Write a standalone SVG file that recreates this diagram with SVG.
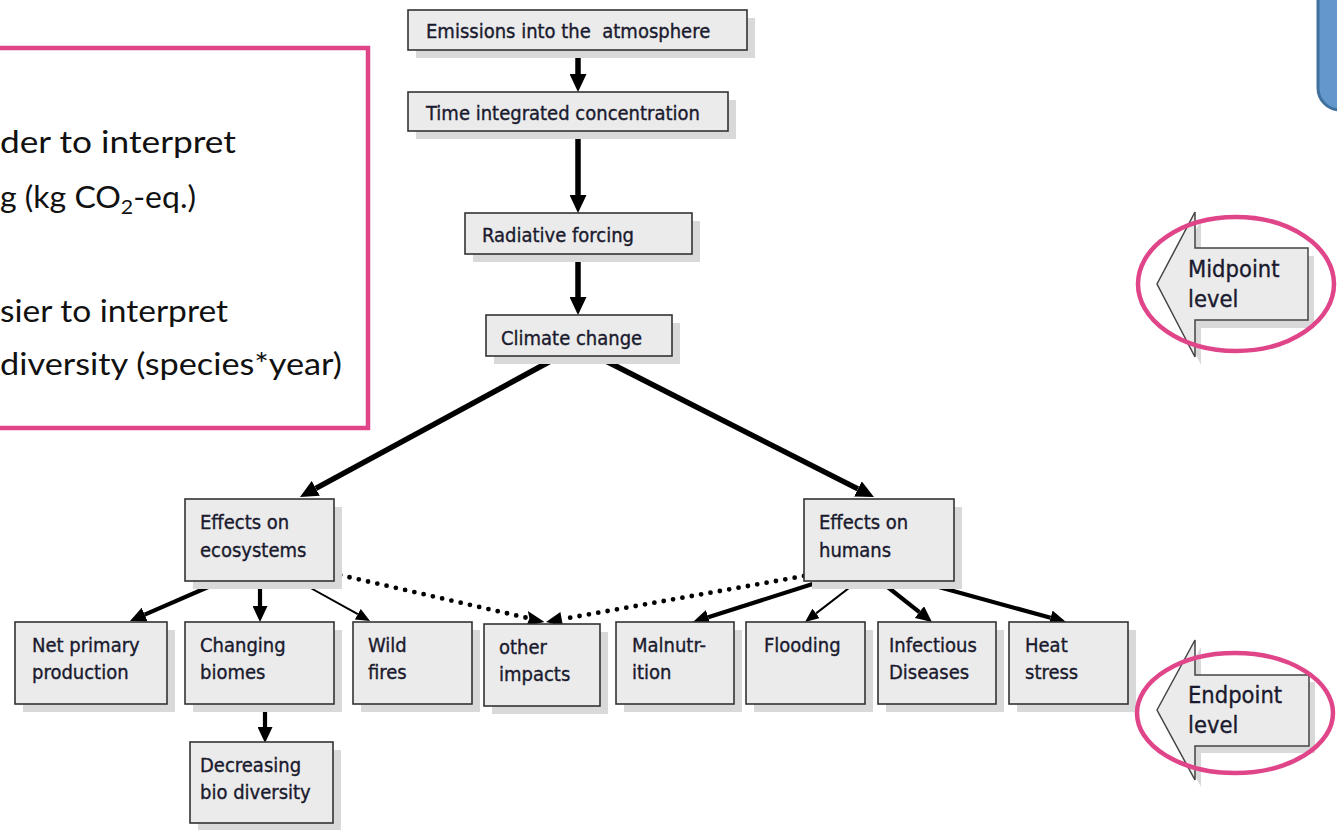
<svg xmlns="http://www.w3.org/2000/svg" width="1337" height="830" viewBox="0 0 1337 830">
<defs>
<style>
.box{fill:#ebebeb;stroke:#333;stroke-width:1.6}
.sh{fill:#d9d9d9}
.t{font-family:"DejaVu Sans Condensed","DejaVu Sans",sans-serif;font-size:20px;fill:#1a1a2e;stroke:#1a1a2e;stroke-width:0.35;white-space:pre}
.lt{font-family:"DejaVu Sans Condensed","DejaVu Sans",sans-serif;font-size:23.5px;fill:#1a1a2e;stroke:#1a1a2e;stroke-width:0.35}
.side{font-family:Lato,"Open Sans",sans-serif;font-size:30px;fill:#111}
.thick{stroke:#000;stroke-width:5.5;fill:none}
.mid{stroke:#000;stroke-width:4.2;fill:none}
.thin{stroke:#000;stroke-width:2;fill:none}
.dot{stroke:#000;stroke-width:4.8;stroke-linecap:round;stroke-dasharray:0 9.5;fill:none}
.pink{fill:none;stroke:#e0458a;stroke-width:4.5}
.lvl{fill:#ebebeb;stroke:#444;stroke-width:1.5}
</style>
<marker id="ah" viewBox="0 0 18 17" refX="0" refY="8.5" markerWidth="18" markerHeight="17" markerUnits="userSpaceOnUse" orient="auto"><path d="M0,0 L18,8.5 L0,17 z" fill="#000"/></marker>
<marker id="am" viewBox="0 0 16 15" refX="0" refY="7.5" markerWidth="16" markerHeight="15" markerUnits="userSpaceOnUse" orient="auto"><path d="M0,0 L16,7.5 L0,15 z" fill="#000"/></marker>
<marker id="as" viewBox="0 0 14 12" refX="0" refY="6" markerWidth="14" markerHeight="12" markerUnits="userSpaceOnUse" orient="auto"><path d="M0,0 L14,6 L0,12 z" fill="#000"/></marker>
</defs>
<rect width="1337" height="830" fill="#fff"/>

<g id="note-box">
<rect x="-10" y="48" width="378" height="380" class="pink"/>
<text class="side" x="0" y="153" textLength="236" lengthAdjust="spacingAndGlyphs">der to interpret</text>
<text class="side" x="0" y="208" textLength="196" lengthAdjust="spacingAndGlyphs">g (kg CO<tspan font-size="20" dy="6">2</tspan><tspan dy="-6">-eq.)</tspan></text>
<text class="side" x="0" y="322" textLength="228" lengthAdjust="spacingAndGlyphs">sier to interpret</text>
<text class="side" x="0" y="375" textLength="342" lengthAdjust="spacingAndGlyphs">diversity (species*year)</text>
</g>

<g id="blue-box">
<rect x="1318" y="-40" width="80" height="150" rx="22" fill="#6497cb" stroke="#41719c" stroke-width="3"/>
</g>

<g id="connectors">
<line class="thick" x1="578" y1="50" x2="578" y2="74" marker-end="url(#ah)"/>
<line class="thick" x1="578" y1="131" x2="578" y2="195" marker-end="url(#ah)"/>
<line class="thick" x1="578" y1="254" x2="578" y2="297" marker-end="url(#ah)"/>
<line class="thick" x1="558" y1="357" x2="315.8" y2="488.4" marker-end="url(#ah)"/>
<line class="thick" x1="598" y1="357" x2="857.9" y2="488.9" marker-end="url(#ah)"/>
<line class="mid" x1="222" y1="581" x2="144.7" y2="614.6" marker-end="url(#am)"/>
<line class="mid" x1="260" y1="581" x2="260" y2="606" marker-end="url(#am)"/>
<line class="thin" x1="298" y1="581" x2="357.8" y2="614.2" marker-end="url(#as)"/>
<line class="mid" x1="265" y1="704" x2="265" y2="727" marker-end="url(#am)"/>
<line class="mid" x1="822" y1="581" x2="708.2" y2="617.2" marker-end="url(#am)"/>
<line class="thin" x1="858" y1="581" x2="816.1" y2="613.4" marker-end="url(#as)"/>
<line class="mid" x1="880" y1="581" x2="919.4" y2="612.1" marker-end="url(#am)"/>
<line class="mid" x1="917" y1="581" x2="1050.6" y2="617.8" marker-end="url(#am)"/>
<line class="dot" x1="331" y1="573" x2="529.4" y2="618.4"/>
<path d="M529.4,618.4 l-1.5,-7.3 l16.6,10.9 l-18.1,3.9 z" fill="#000"/>
<line class="dot" x1="804" y1="576" x2="561.7" y2="619.2"/>
<path d="M561.7,619.2 l-1.3,-7.3 l-14.4,10.1 l17.1,4.5 z" fill="#000"/>
</g>

<g id="n-emissions"><rect class="sh" x="416" y="18" width="339" height="40"/><rect class="box" x="408" y="10" width="339" height="40"/><text class="t" x="426" y="38">Emissions into the  atmosphere</text></g>
<g id="n-time"><rect class="sh" x="416" y="100" width="320" height="39"/><rect class="box" x="408" y="92" width="320" height="39"/><text class="t" x="426" y="120">Time integrated concentration</text></g>
<g id="n-radiative"><rect class="sh" x="473" y="221" width="227" height="41"/><rect class="box" x="465" y="213" width="227" height="41"/><text class="t" x="482" y="242">Radiative forcing</text></g>
<g id="n-climate"><rect class="sh" x="494" y="323" width="186" height="41"/><rect class="box" x="486" y="315" width="186" height="41"/><text class="t" x="501" y="345">Climate change</text></g>

<g id="n-ecosystems"><rect class="sh" x="193" y="507" width="149" height="82"/><rect class="box" x="185" y="499" width="149" height="82"/><text class="t" x="200" y="529">Effects on</text><text class="t" x="200" y="557">ecosystems</text></g>
<g id="n-humans"><rect class="sh" x="812" y="507" width="150" height="82"/><rect class="box" x="804" y="499" width="150" height="82"/><text class="t" x="819" y="529">Effects on</text><text class="t" x="819" y="557">humans</text></g>

<g id="n-npp"><rect class="sh" x="23" y="630" width="152" height="82"/><rect class="box" x="15" y="622" width="152" height="82"/><text class="t" x="32" y="652">Net primary</text><text class="t" x="32" y="679">production</text></g>
<g id="n-biomes"><rect class="sh" x="193" y="630" width="149" height="82"/><rect class="box" x="185" y="622" width="149" height="82"/><text class="t" x="200" y="652">Changing</text><text class="t" x="200" y="679">biomes</text></g>
<g id="n-fires"><rect class="sh" x="361" y="630" width="119" height="82"/><rect class="box" x="353" y="622" width="119" height="82"/><text class="t" x="368" y="652">Wild</text><text class="t" x="368" y="679">fires</text></g>
<g id="n-biodiv"><rect class="sh" x="198" y="750" width="143" height="81"/><rect class="box" x="190" y="742" width="143" height="81"/><text class="t" x="200" y="772">Decreasing</text><text class="t" x="200" y="799">bio diversity</text></g>
<g id="n-other"><rect class="sh" x="492" y="632" width="116" height="82"/><rect class="box" x="484" y="624" width="116" height="82"/><text class="t" x="499" y="654">other</text><text class="t" x="499" y="681">impacts</text></g>
<g id="n-malnutrition"><rect class="sh" x="624" y="630" width="118" height="82"/><rect class="box" x="616" y="622" width="118" height="82"/><text class="t" x="632" y="652">Malnutr-</text><text class="t" x="632" y="679">ition</text></g>
<g id="n-flooding"><rect class="sh" x="754" y="630" width="119" height="82"/><rect class="box" x="746" y="622" width="119" height="82"/><text class="t" x="764" y="652">Flooding</text></g>
<g id="n-infectious"><rect class="sh" x="886" y="630" width="118" height="82"/><rect class="box" x="878" y="622" width="118" height="82"/><text class="t" x="889" y="652">Infectious</text><text class="t" x="889" y="679">Diseases</text></g>
<g id="n-heat"><rect class="sh" x="1017" y="630" width="119" height="82"/><rect class="box" x="1009" y="622" width="119" height="82"/><text class="t" x="1025" y="652">Heat</text><text class="t" x="1025" y="679">stress</text></g>

<g id="midpoint-level">
<polygon class="sh" points="1163,291 1201,220 1201,256 1314,256 1314,328 1201,328 1201,365"/>
<polygon class="lvl" points="1157,284 1195,212 1195,248 1308,248 1308,320 1195,320 1195,357"/>
<text class="lt" x="1188" y="277">Midpoint</text>
<text class="lt" x="1188" y="307">level</text>
<ellipse class="pink" cx="1236" cy="284" rx="98" ry="67"/>
</g>

<g id="endpoint-level">
<polygon class="sh" points="1163,717 1201,647 1201,682 1315,682 1315,753 1201,753 1201,787"/>
<polygon class="lvl" points="1157,710 1195,640 1195,675 1309,675 1309,746 1195,746 1195,780"/>
<text class="lt" x="1188" y="703">Endpoint</text>
<text class="lt" x="1188" y="733">level</text>
<ellipse class="pink" cx="1235" cy="713" rx="98" ry="60"/>
</g>
</svg>
